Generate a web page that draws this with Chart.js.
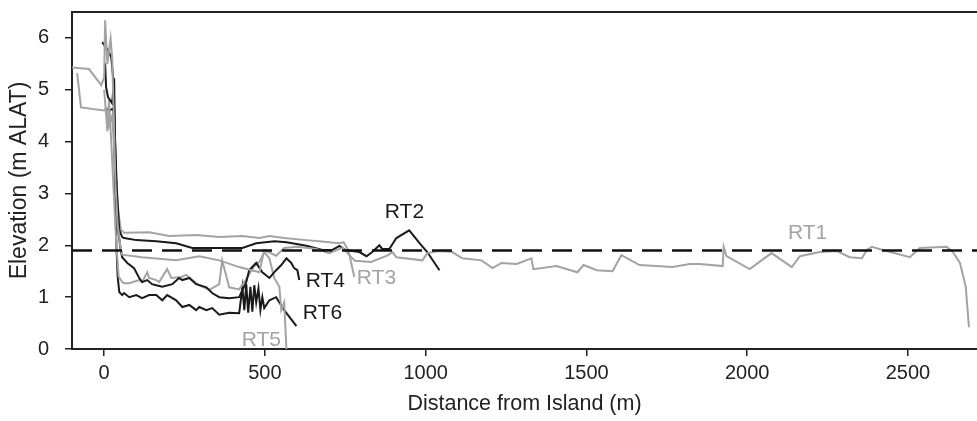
<!DOCTYPE html>
<html>
<head>
<meta charset="utf-8">
<script src="https://cdn.jsdelivr.net/npm/chart.js@4/dist/chart.umd.min.js"></script>
<style>
html,body{margin:0;padding:0;background:#fff;}
#wrap{width:977px;height:421px;}
</style>
</head>
<body>
<div id="wrap"><canvas id="c" width="977" height="421"></canvas></div>
<script>
// ---- data (distance m, elevation m ALAT) ----
const rt1X = [-103,-47,-9,0,3,10,20,25,30,35,42,50,56,118,224,296,358,420,483,498,535,560,600,660,700,741,780,830,880,897,909,990,1005,1043,1083,1114,1174,1208,1236,1283,1329,1335,1407,1472,1491,1532,1581,1609,1665,1768,1821,1852,1924,1927,1936,2008,2076,2139,2164,2226,2279,2319,2357,2372,2388,2422,2506,2537,2621,2640,2662,2680,2690];
const rt1Y = [5.43,5.40,5.09,5.24,6.34,5.5,5.99,5.6,4.5,3.2,2.4,2.0,1.82,1.77,1.71,1.79,1.71,1.58,1.48,1.91,1.80,1.95,1.97,1.93,1.85,1.95,1.70,1.68,1.80,1.87,1.77,1.71,1.85,1.89,1.87,1.75,1.71,1.56,1.66,1.64,1.75,1.54,1.60,1.48,1.62,1.52,1.50,1.81,1.62,1.58,1.64,1.64,1.60,1.97,1.79,1.54,1.85,1.58,1.79,1.87,1.89,1.77,1.75,1.91,1.97,1.91,1.77,1.95,1.97,1.87,1.66,1.20,0.42];

const rt2X = [-6,12,22,28,34,40,47,56,62,100,162,224,274,430,473,530,567,629,679,710,732,750,794,816,834,856,865,887,909,949,981,1005,1043];
const rt2Y = [5.92,5.76,5.63,5.24,4.0,3.0,2.3,2.16,2.14,2.10,2.08,2.04,1.95,1.95,2.04,2.08,2.06,1.99,1.91,1.91,1.99,1.91,1.87,1.79,1.87,2.00,1.93,1.93,2.14,2.29,2.04,1.87,1.52];

const rt3X = [-84,-72,0,6,15,25,35,45,52,62,140,202,286,358,430,483,514,560,629,669,700,732,745,760,778];
const rt3Y = [5.32,4.66,4.60,4.64,4.3,4.5,3.5,2.6,2.3,2.24,2.25,2.18,2.20,2.16,2.18,2.14,2.18,2.14,2.10,2.08,2.06,2.04,2.06,1.90,1.39];

const rt4X = [3,6,12,25,31,34,38,45,52,56,72,93,109,118,134,149,162,181,212,233,243,265,286,318,336,358,389,420,442,451,473,492,514,535,551,567,582,591,601,607];
const rt4Y = [5.51,5.05,4.86,4.74,5.22,4.0,3.0,2.2,1.9,1.77,1.66,1.56,1.37,1.29,1.33,1.25,1.23,1.20,1.25,1.37,1.33,1.37,1.25,1.19,1.08,1.00,0.98,1.00,1.29,1.52,1.66,1.48,1.37,1.52,1.62,1.75,1.66,1.56,1.52,1.33];

const rt5X = [0,10,15,22,30,38,45,56,62,78,109,118,134,140,162,171,196,209,240,255,274,296,327,358,367,389,420,442,467,483,498,514,529,545,551,560,567];
const rt5Y = [5.0,4.2,4.8,4.0,3.0,2.0,1.4,1.29,1.27,1.27,1.33,1.29,1.48,1.37,1.33,1.29,1.54,1.37,1.39,1.43,1.33,1.23,1.14,1.25,1.71,1.19,1.15,1.35,1.60,1.68,1.87,1.75,1.37,1.20,0.75,0.90,0.0];

const rt6X = [6,16,28,31,34,38,42,47,56,62,78,100,118,140,162,181,196,224,243,265,286,296,318,336,358,389,420,430,436,442,448,455,461,467,473,480,486,492,498,514,535,560,591,598];
const rt6Y = [4.64,4.60,4.64,4.3,3.0,2.0,1.4,1.1,1.04,1.08,1.00,1.04,0.98,1.04,1.04,0.94,1.04,0.94,0.81,0.85,0.75,0.81,0.75,0.79,0.66,0.70,0.69,1.19,0.75,1.25,0.70,1.20,0.72,1.23,0.90,1.17,0.75,1.00,0.79,0.94,1.00,0.75,0.50,0.44];

const refLevel = 1.9;
const xTicks = [0,500,1000,1500,2000,2500];
const yTicks = [0,1,2,3,4,5,6];
const seriesNames = ['RT1','RT2','RT3','RT4','RT5','RT6'];
const labelX = [2188,934,847,688,489,679];
const labelY = [2.24,2.64,1.37,1.31,0.17,0.69];

const GRAY = '#a3a3a3';
const BLACK = '#1a1a1a';
const seriesColors = [GRAY, BLACK, GRAY, BLACK, GRAY, BLACK];

function pts(xs, ys){ return xs.map((x,i)=>({x:x, y:ys[i]})); }
const allX = [rt1X,rt2X,rt3X,rt4X,rt5X,rt6X];
const allY = [rt1Y,rt2Y,rt3Y,rt4Y,rt5Y,rt6Y];

const datasets = [{
  data:[{x:-100,y:refLevel},{x:2715,y:refLevel}],
  borderColor:'#111', borderWidth:2.5, borderDash:[20,10], pointRadius:0, showLine:true, fill:false
}];
allX.forEach((xs,i)=>{
  datasets.push({data:pts(xs,allY[i]), borderColor:seriesColors[i], borderWidth:2, pointRadius:0, showLine:true, fill:false, tension:0});
});

const FONT = "'Liberation Sans', Arial, sans-serif";

const decor = {
  id:'decor',
  afterDatasetsDraw(chart){
    const ctx = chart.ctx, a = chart.chartArea;
    const xs = chart.scales.x, ys = chart.scales.y;
    ctx.save();
    ctx.strokeStyle = '#222'; ctx.lineWidth = 2;
    ctx.beginPath(); ctx.moveTo(a.left-1, a.top); ctx.lineTo(a.right, a.top); ctx.stroke();
    ctx.font = '21px ' + FONT;
    ctx.textAlign = 'center'; ctx.textBaseline = 'middle';
    seriesNames.forEach((n,i)=>{
      ctx.fillStyle = seriesColors[i];
      ctx.fillText(n, xs.getPixelForValue(labelX[i]), ys.getPixelForValue(labelY[i]));
    });
    ctx.restore();
  }
};

new Chart(document.getElementById('c'), {
  type:'scatter',
  data:{datasets},
  options:{
    responsive:false, animation:false,
    layout:{padding:{top:12,right:0,left:0,bottom:0}},
    plugins:{legend:{display:false}, tooltip:{enabled:false}},
    scales:{
      x:{
        type:'linear', min:-100, max:2715,
        afterBuildTicks(s){ s.ticks = xTicks.map(v=>({value:v})); },
        afterFit(s){ s.height = 72; s.paddingLeft = 0; s.paddingRight = 0; },
        grid:{drawOnChartArea:false, drawTicks:true, tickLength:7, color:'#222', lineWidth:1.5},
        border:{display:true, color:'#222', width:2},
        ticks:{color:'#222', font:{family:FONT, size:20}, padding:5, maxRotation:0, callback:v=>String(v)},
        title:{display:true, text:'Distance from Island (m)', color:'#222', font:{family:FONT, size:21.5}, padding:{top:3}}
      },
      y:{
        type:'linear', min:0, max:6.5,
        afterBuildTicks(s){ s.ticks = yTicks.map(v=>({value:v})); },
        afterFit(s){ s.width = 72; s.paddingTop = 0; s.paddingBottom = 0; },
        grid:{drawOnChartArea:false, drawTicks:true, tickLength:7, color:'#222', lineWidth:1.5},
        border:{display:true, color:'#222', width:2},
        ticks:{color:'#222', font:{family:FONT, size:20}, padding:16, callback:v=>String(v)},
        title:{display:true, text:'Elevation (m ALAT)', color:'#222', font:{family:FONT, size:23}, padding:{top:6,bottom:0}}
      }
    }
  },
  plugins:[decor]
});
</script>
</body>
</html>
